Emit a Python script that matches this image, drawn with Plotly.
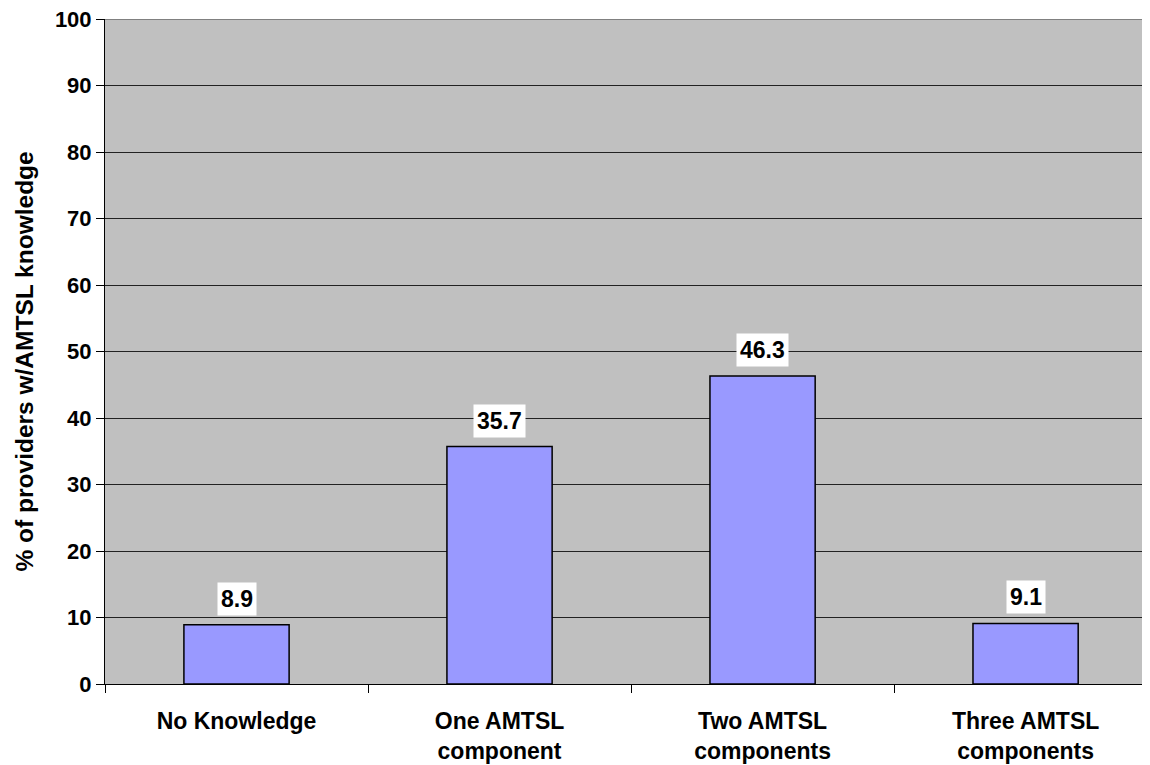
import plotly.graph_objects as go

categories = ["No Knowledge", "One AMTSL<br>component", "Two AMTSL<br>components", "Three AMTSL<br>components"]
values = [8.9, 35.7, 46.3, 9.1]
value_labels = ["8.9", "35.7", "46.3", "9.1"]
y_ticks = [0, 10, 20, 30, 40, 50, 60, 70, 80, 90, 100]
y_title = "% of providers w/AMTSL knowledge"

FONT = "Liberation Sans, Arial, sans-serif"
FS = 22

fig = go.Figure()
fig.add_trace(go.Bar(
    x=categories, y=values, width=0.4,
    marker=dict(color="#9999FF", line=dict(color="#000000", width=1.5)),
    hoverinfo="skip",
))

for c, v, t in zip(categories, values, value_labels):
    fig.add_annotation(
        x=c, y=v, text="<b>%s</b>" % t, showarrow=False,
        yanchor="bottom", yshift=9, bgcolor="white", borderpad=3,
        font=dict(family=FONT, size=23, color="black"),
    )

# y-axis title as rotated annotation
fig.add_annotation(
    xref="paper", yref="paper", x=-0.0775, y=0.485, text="<b>%s</b>" % y_title,
    textangle=-90, showarrow=False, xanchor="center", yanchor="middle",
    font=dict(family=FONT, size=24.5, color="black"),
)

# plot-area top border (gray)
fig.add_shape(type="line", xref="paper", yref="y", x0=0, x1=1,
              y0=y_ticks[-1], y1=y_ticks[-1],
              line=dict(color="#808080", width=2), layer="above")

fig.update_layout(
    width=1142, height=757,
    margin=dict(l=97, r=0, t=11, b=81, autoexpand=False),
    paper_bgcolor="white", plot_bgcolor="#C0C0C0",
    showlegend=False,
    font=dict(family=FONT, size=FS, color="black"),
    bargap=0.6,
)
fig.update_xaxes(
    range=[-0.5, 3.473], tickson="boundaries", ticks="outside", ticklen=8,
    tickcolor="black", showline=True, linecolor="black", linewidth=1,
    showgrid=False, tickfont=dict(family=FONT, size=23, weight="bold"),
    ticklabelstandoff=16, automargin=False,
)
fig.update_yaxes(
    range=[0, 100], tickvals=y_ticks, ticks="outside", ticklen=8,
    tickcolor="black", showline=True, linecolor="black", linewidth=1,
    showgrid=True, gridcolor="#222222", gridwidth=1, zeroline=False,
    tickfont=dict(family=FONT, size=FS, weight="bold"),
    ticklabeloverflow="allow", automargin=False,
)

fig.write_html("out.html")
